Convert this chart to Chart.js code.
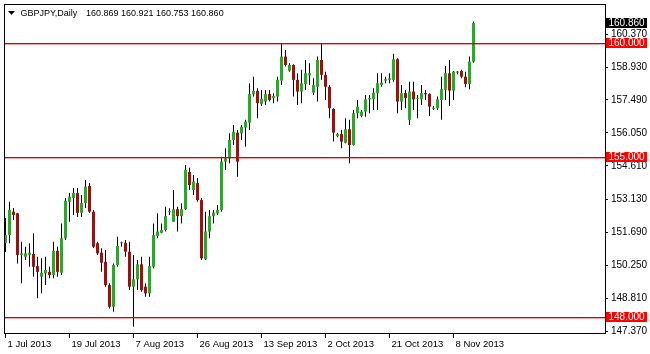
<!DOCTYPE html>
<html><head><meta charset="utf-8">
<script src="https://cdn.jsdelivr.net/npm/chart.js@4.4.0/dist/chart.umd.min.js"></script>
<style>html,body{margin:0;padding:0;background:#fff;}#wrap{width:650px;height:354px;position:relative;}</style>
</head><body><div id="wrap"><canvas id="c" width="650" height="354"></canvas></div>
<script>
const symbolLabel = 'GBPJPY,Daily';
const lastBar = [160.869, 160.921, 160.753, 160.860];
const opens = [151.23,151.58,152.60,152.53,150.71,150.63,150.71,150.75,150.22,149.76,149.90,149.97,149.83,150.89,149.93,151.44,153.04,153.20,153.42,152.55,152.98,153.73,152.60,151.22,150.81,150.41,149.39,148.44,150.27,151.22,151.24,150.85,149.32,149.64,150.30,149.32,149.03,150.19,151.54,151.68,151.80,152.58,152.16,152.71,152.41,152.71,154.34,153.55,153.85,153.11,150.52,151.73,152.41,152.53,152.68,154.79,154.94,155.74,156.06,156.03,156.28,156.50,157.74,157.89,157.32,157.42,157.75,157.57,157.64,158.34,159.39,158.77,159.02,158.37,157.86,158.18,158.57,157.81,158.07,159.24,158.59,158.07,157.10,155.91,156.00,155.62,156.21,155.52,156.91,156.79,156.98,157.52,157.52,157.79,158.15,158.34,158.37,158.37,159.27,157.42,157.79,156.62,157.86,157.54,157.52,157.79,157.75,157.10,157.13,157.49,157.93,158.66,157.90,158.69,158.76,158.51,158.19,159.17];
const highs = [152.33,153.04,152.76,152.55,151.29,151.07,151.22,151.66,150.63,150.56,150.63,150.19,151.29,151.07,152.09,153.20,153.42,153.64,153.64,153.33,153.99,153.86,152.68,151.29,151.00,150.93,149.47,150.34,151.51,151.29,151.36,151.29,150.71,150.49,150.63,149.47,150.63,152.09,152.53,152.09,152.82,152.75,153.55,152.82,152.97,154.65,154.52,154.21,154.08,153.20,152.60,152.68,152.68,152.90,155.01,155.38,156.03,156.40,156.18,156.40,156.62,158.22,158.51,158.00,157.93,157.93,157.93,157.79,158.51,159.97,159.68,159.10,159.05,158.66,158.81,159.24,159.10,158.44,159.39,159.97,158.73,158.15,157.13,156.06,156.18,156.69,156.62,157.05,157.49,157.05,157.71,157.71,158.00,158.66,158.66,158.51,158.66,159.51,159.32,158.15,157.93,158.29,158.29,157.71,158.15,157.93,157.79,157.23,157.64,158.51,158.98,159.24,158.76,158.76,158.81,158.73,159.39,160.92];
const lows = [150.84,151.22,152.24,150.34,149.47,150.49,150.19,149.76,148.81,149.03,149.39,149.69,149.69,149.76,149.83,151.36,152.16,152.46,152.37,152.37,152.76,152.55,151.01,150.71,149.97,149.32,148.37,148.22,150.19,151.07,150.63,149.17,147.57,149.17,149.10,148.88,148.88,150.12,151.44,151.66,151.73,152.46,152.16,151.73,152.09,152.68,153.55,153.33,153.04,150.49,150.49,151.44,152.09,152.46,152.60,154.43,154.72,155.52,154.13,155.74,155.45,156.18,157.64,156.69,157.23,157.27,157.42,157.35,157.42,158.15,158.95,158.73,157.64,157.27,157.35,157.93,158.15,157.71,157.42,158.37,157.49,156.69,155.67,155.86,155.38,155.60,154.72,155.50,156.69,156.73,156.76,156.91,157.05,157.05,158.07,158.22,158.22,158.29,156.91,157.05,157.13,156.40,157.05,156.69,157.27,157.49,156.79,157.05,157.05,156.62,157.49,157.23,157.49,158.62,158.44,158.05,157.96,159.12];
const closes = [151.58,152.68,152.46,150.71,150.78,150.78,150.81,150.19,149.97,149.93,150.05,149.83,150.89,149.97,151.44,153.08,153.26,153.42,152.55,152.98,153.70,152.60,151.07,150.78,150.37,149.39,148.44,150.27,151.10,151.26,150.85,149.32,149.64,150.30,149.17,149.03,150.22,151.58,151.73,151.80,152.41,152.60,152.71,152.41,152.71,154.43,153.77,153.92,153.11,150.56,151.73,152.41,152.56,152.68,154.79,154.94,155.74,156.10,154.79,156.32,156.54,157.75,157.89,157.35,157.54,157.75,157.49,157.67,158.37,159.39,159.02,159.02,158.37,157.86,158.22,158.66,158.66,158.15,159.24,158.59,158.07,157.13,156.06,156.00,155.67,156.21,155.52,156.91,157.20,156.98,157.52,157.57,157.81,158.22,158.25,158.40,158.44,159.27,157.42,157.79,157.57,157.86,157.52,157.57,157.79,157.74,157.20,157.15,157.52,157.96,158.66,157.90,158.73,158.71,158.51,158.19,159.17,160.86];
const xTickIndex = [0, 16, 32, 48, 64, 80, 96, 112];
const xTickLabels = ['1 Jul 2013', '19 Jul 2013', '7 Aug 2013', '26 Aug 2013', '13 Sep 2013', '2 Oct 2013', '21 Oct 2013', '8 Nov 2013'];
const yTickValues = [147.37, 148.81, 150.25, 151.69, 153.13, 154.61, 156.05, 157.49, 158.93, 160.37];
const levelLines = [160.000, 155.000, 148.000];

const FONT = 'Liberation Sans';
const BULL = '#33a133', BEAR = '#931414';
const idx = opens.map((_, i) => i);

const overlay = {
  id: 'overlay',
  beforeDraw(chart) {
    const c = chart.ctx;
    c.save(); c.fillStyle = '#fff'; c.fillRect(0, 0, chart.width, chart.height); c.restore();
  },
  afterDatasetsDraw(chart) {
    const c = chart.ctx, a = chart.chartArea, ys = chart.scales.y;
    c.save();
    levelLines.forEach(v => {
      const py = Math.round(ys.getPixelForValue(v));
      c.fillStyle = '#e00000';
      c.fillRect(a.left, py, a.right - a.left, 1);
      c.fillStyle = 'rgba(230,0,0,0.35)';
      c.fillRect(a.left, py + 1, a.right - a.left, 1);
    });
    c.restore();
  },
  afterDraw(chart) {
    const c = chart.ctx, a = chart.chartArea, ys = chart.scales.y;
    c.save();
    c.strokeStyle = '#000'; c.lineWidth = 1;
    c.strokeRect(a.left + 0.5, a.top + 0.5, a.right - a.left, a.bottom - a.top - 1);
    c.fillStyle = '#000';
    c.beginPath(); c.moveTo(8, 11); c.lineTo(15, 11); c.lineTo(11.5, 15); c.closePath(); c.fill();
    c.font = '9px "' + FONT + '"'; c.textBaseline = 'middle'; c.textAlign = 'left';
    c.fillText(symbolLabel, 20.5, 13.5);
    c.fillText(lastBar.map(v => v.toFixed(3)).join(' '), 86, 13.5);
    c.font = '10px "' + FONT + '"';
    const tag = (v, bg) => {
      const py = Math.round(ys.getPixelForValue(v));
      c.fillStyle = bg; c.fillRect(606, py - 5, 41, 10);
      c.fillStyle = '#fff'; c.fillText(v.toFixed(3), 608.5, py + 0.5);
    };
    levelLines.forEach(v => tag(v, '#ff0000'));
    tag(lastBar[3], '#000');
    c.restore();
  }
};

new Chart(document.getElementById('c'), {
  type: 'bar',
  data: {
    datasets: [
      {
        label: 'body',
        data: idx.map(i => ({ x: i, y: [opens[i], closes[i]] })),
        backgroundColor: idx.map(i => closes[i] >= opens[i] ? BULL : BEAR),
        borderWidth: 0, borderSkipped: false,
        barThickness: 3, minBarLength: 1, grouped: false, inflateAmount: 0
      },
      {
        label: 'wick',
        data: idx.map(i => ({ x: i, y: [lows[i], highs[i]] })),
        backgroundColor: '#000', borderWidth: 0,
        barThickness: 1, grouped: false, inflateAmount: 0
      }
    ]
  },
  options: {
    responsive: false, animation: false, devicePixelRatio: 1,
    layout: { padding: { left: 4, top: 4, right: 0, bottom: 0 } },
    plugins: { legend: { display: false }, tooltip: { enabled: false }, title: { display: false } },
    scales: {
      x: {
        type: 'linear', min: -0.375, max: 149.875, offset: false,
        afterBuildTicks: s => { s.ticks = xTickIndex.map(v => ({ value: v })); },
        afterFit: s => { s.height = 20; s.paddingLeft = 0; s.paddingRight = 0; },
        ticks: {
          autoSkip: false, maxRotation: 0, minRotation: 0, align: 'start', labelOffset: 2, padding: 1,
          color: '#000', font: { family: FONT, size: 9.5 },
          callback: v => xTickLabels[xTickIndex.indexOf(v)]
        },
        grid: { drawOnChartArea: false, offset: false, tickLength: 4, color: '#000' },
        border: { display: false }
      },
      y: {
        position: 'right', min: 147.25, max: 161.69,
        afterBuildTicks: s => { s.ticks = yTickValues.map(v => ({ value: v })); },
        afterFit: s => { s.width = 45; s.paddingTop = 0; s.paddingBottom = 0; },
        ticks: { autoSkip: false, padding: 3, color: '#000', font: { family: FONT, size: 10 }, callback: v => Number(v).toFixed(3) },
        grid: { drawOnChartArea: false, tickLength: 3, color: '#000' },
        border: { display: false }
      }
    }
  },
  plugins: [overlay]
});
</script></body></html>
